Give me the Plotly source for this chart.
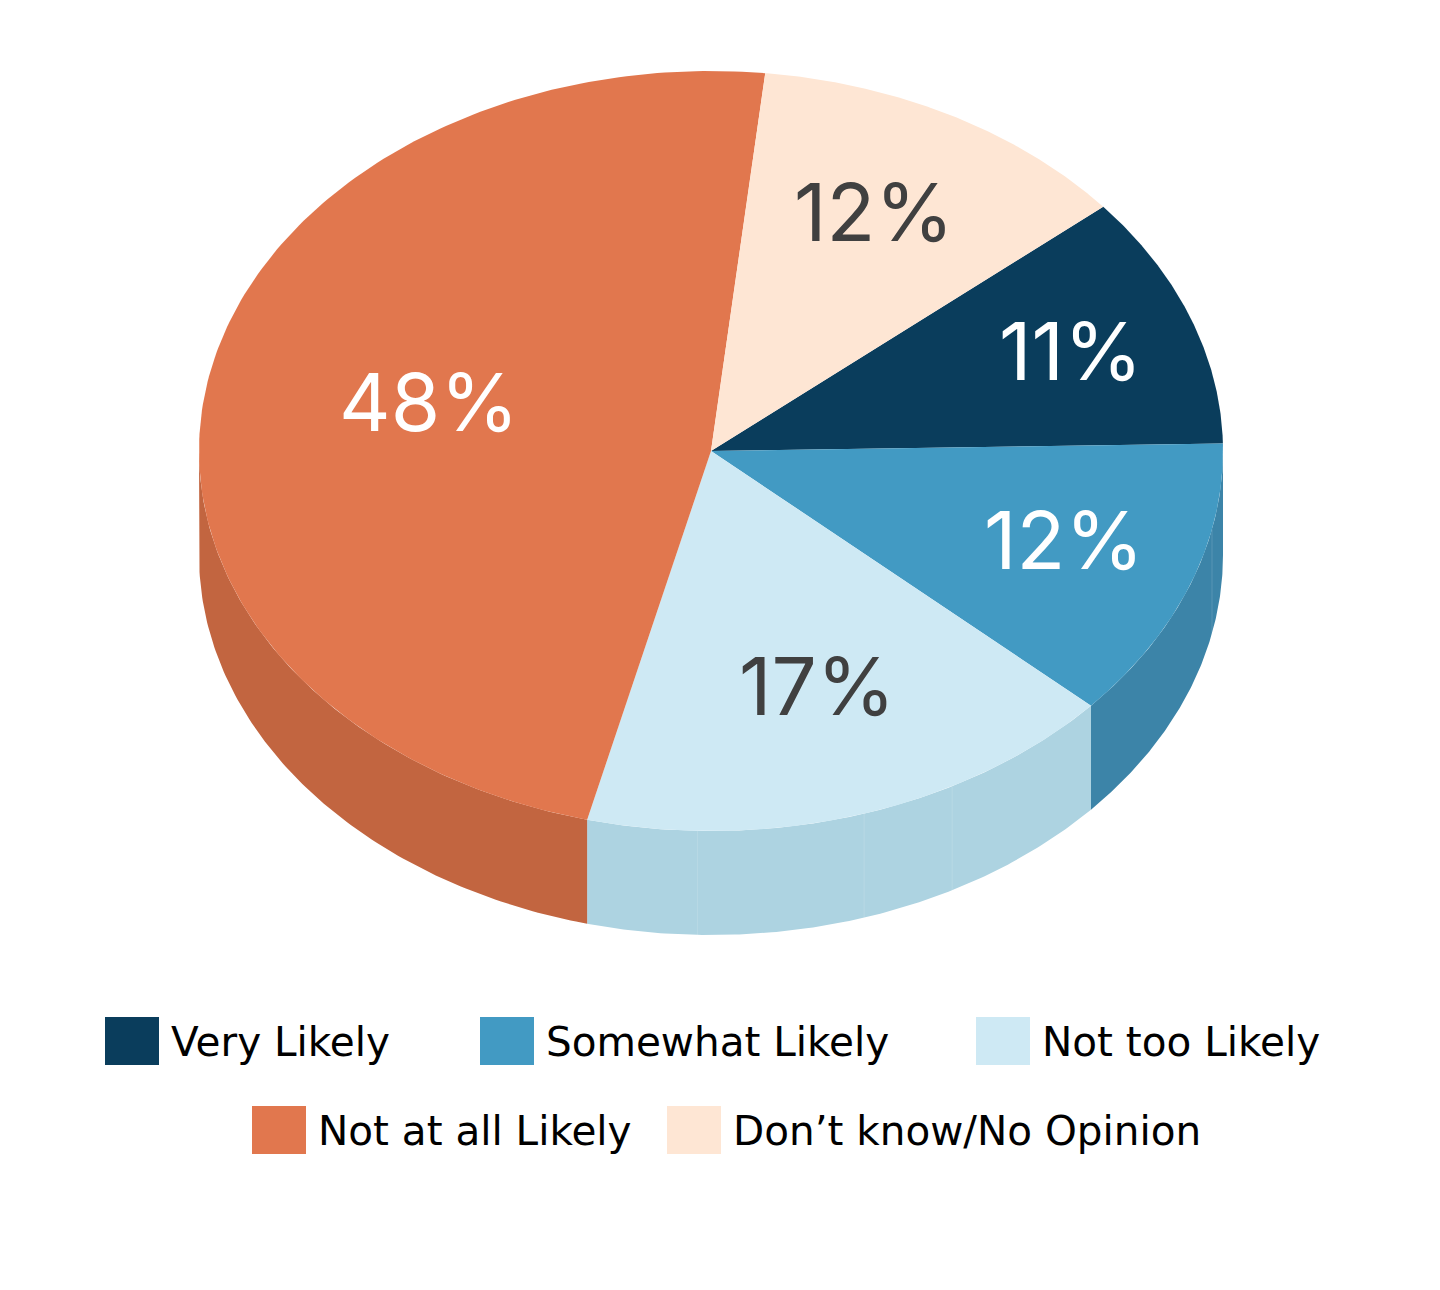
import numpy as np
import plotly.graph_objects as go

categories = ["Very Likely", "Somewhat Likely", "Not too Likely", "Not at all Likely", "Don’t know/No Opinion"]
values = [10.8, 12.0, 17.2, 47.8, 12.2]
top_colors = ["#0A3D5C", "#429AC3", "#CEE9F4", "#E1774E", "#FEE6D4"]
wall_colors = ["#0A3D5C", "#3C84A8", "#ADD3E1", "#C26540", "#FEE6D4"]
label_colors = ["#FFFFFF", "#FFFFFF", "#404040", "#FFFFFF", "#404040"]
label_x = [1071, 1064, 817, 429, 874]
label_y = [350, 539, 685, 401, 211]
legend_x = [105, 480, 976, 252, 667]
legend_y = [1017, 1017, 1017, 1106, 1106]
wall_seams = [-91.5, -72.6, -61.9, -11.9]

CX, CY, RX, RY, DEPTH = 711, 451, 512, 380, 104
START = 40.0
LABEL_FONT = "Inter"
LEGEND_FONT = "DejaVu Sans"


def ell(deg, dy=0):
    r = np.radians(deg)
    return CX + RX * np.cos(r), CY - RY * np.sin(r) + dy


fig = go.Figure()
pct = np.array(values, dtype=float) / sum(values) * 360
ends = START - np.cumsum(pct)
starts = ends + pct

# side walls (only the part of each slice that faces the viewer)
for name, a, b, col in zip(categories, starts, ends, wall_colors):
    for lo_w, hi_w in [(-180, 0), (-540, -360)]:
        hi, lo = min(a, hi_w), max(b, lo_w)
        if hi <= lo:
            continue
        t = np.linspace(hi, lo, 120)
        xt, yt = ell(t)
        xb, yb = ell(t[::-1], DEPTH)
        fig.add_trace(go.Scatter(x=np.r_[xt, xb, xt[0]], y=np.r_[yt, yb, yt[0]], mode="lines",
                                 fill="toself", fillcolor=col, line=dict(width=0),
                                 name=name, hoverinfo="skip", showlegend=False))

# faint vertical seams in the wall
for s in wall_seams:
    x0, y0 = ell(s)
    x1, y1 = ell(s, DEPTH)
    fig.add_trace(go.Scatter(x=[x0, x1], y=[y0, y1], mode="lines",
                             line=dict(width=1, color="rgba(255,255,255,0.14)"),
                             hoverinfo="skip", showlegend=False))

# top face
for name, v, a, b, col in zip(categories, values, starts, ends, top_colors):
    t = np.linspace(a, b, 200)
    xt, yt = ell(t)
    fig.add_trace(go.Scatter(x=np.r_[CX, xt, CX], y=np.r_[CY, yt, CY], mode="lines",
                             fill="toself", fillcolor=col, line=dict(width=0),
                             name=name, text=f"{name}: {round(v)}%", hoverinfo="text", showlegend=False))

for v, x, y, c in zip(values, label_x, label_y, label_colors):
    fig.add_annotation(x=x, y=y, text=f"{round(v)}%", showarrow=False, xanchor="center", yanchor="middle",
                       font=dict(family=LABEL_FONT, size=80, color=c))

for name, x, y, col in zip(categories, legend_x, legend_y, top_colors):
    fig.add_shape(type="rect", x0=x, x1=x + 54, y0=y, y1=y + 48, fillcolor=col, line=dict(width=0))
    fig.add_annotation(x=x + 64, y=y + 25, text=name, showarrow=False, xanchor="left", yanchor="middle",
                       font=dict(family=LEGEND_FONT, size=40.5, color="#000000"))

fig.update_layout(width=1440, height=1290, margin=dict(l=0, r=0, t=0, b=0),
                  paper_bgcolor="white", plot_bgcolor="white", showlegend=False,
                  xaxis=dict(range=[0, 1440], visible=False, fixedrange=True),
                  yaxis=dict(range=[1290, 0], visible=False, fixedrange=True))
fig.write_html("out.html", config=dict(displayModeBar=False),
               post_script="document.body.style.margin='0';document.body.style.overflow='hidden';")
